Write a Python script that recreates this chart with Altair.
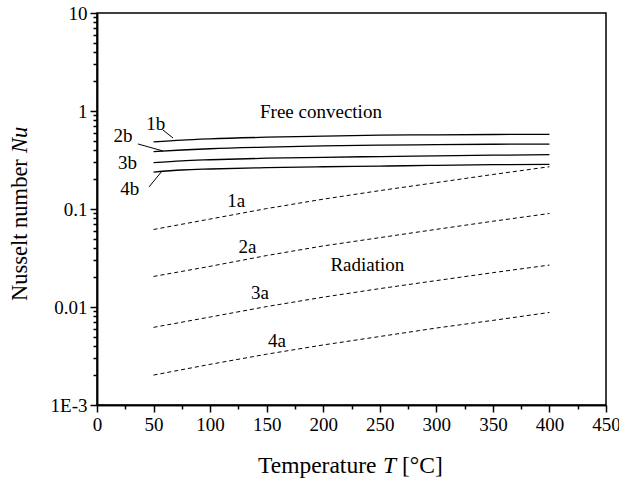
import altair as alt
import pandas as pd

FONT = "Liberation Serif"

# Free convection curves (solid)
T_fc = [50, 75, 100, 150, 200, 250, 300, 350, 400]
nu_1b = [0.483, 0.505, 0.52, 0.54, 0.555, 0.567, 0.572, 0.576, 0.578]
nu_2b = [0.385, 0.40, 0.412, 0.428, 0.44, 0.448, 0.454, 0.458, 0.46]
nu_3b = [0.297, 0.31, 0.318, 0.33, 0.337, 0.343, 0.349, 0.354, 0.358]
nu_4b = [0.238, 0.25, 0.256, 0.264, 0.27, 0.274, 0.279, 0.283, 0.286]

# Radiation curves (dashed)
T_rad = [50, 100, 150, 200, 250, 300, 350, 400]
nu_1a = [0.0618, 0.079, 0.101, 0.126, 0.154, 0.186, 0.225, 0.270]
nu_2a = [0.0205, 0.026, 0.0335, 0.042, 0.051, 0.062, 0.075, 0.090]
nu_3a = [0.0062, 0.0079, 0.0101, 0.0126, 0.0154, 0.0186, 0.0224, 0.0268]
nu_4a = [0.00202, 0.0026, 0.0033, 0.0041, 0.0050, 0.0061, 0.0073, 0.0088]

# Curve labels
lab_text = ["1b", "2b", "3b", "4b", "1a", "2a", "3a", "4a", "Free convection", "Radiation"]
lab_T = [52, 23, 27, 29, 123, 133, 144, 159, 198, 239]
lab_nu = [0.74, 0.556, 0.294, 0.16, 0.121, 0.041, 0.0139, 0.00453, 0.97, 0.0268]

# Leader lines
lead_T1 = [58.3, 36.2, 46.0]
lead_nu1 = [0.64, 0.461, 0.168]
lead_T2 = [67.2, 58.3, 57.5]
lead_nu2 = [0.53, 0.391, 0.244]

x_major = list(range(0, 451, 50))
x_minor = list(range(25, 451, 50))
y_major = [0.001, 0.01, 0.1, 1, 10]
y_minor = []
for d in [0.001, 0.01, 0.1, 1]:
    for k in range(2, 10):
        y_minor.append(round(d * k, 6))

fc_rows = []
for name, vals in [("1b", nu_1b), ("2b", nu_2b), ("3b", nu_3b), ("4b", nu_4b)]:
    for t, v in zip(T_fc, vals):
        fc_rows.append({"series": name, "T": t, "Nu": v})
fc = pd.DataFrame(fc_rows)

rad_rows = []
for name, vals in [("1a", nu_1a), ("2a", nu_2a), ("3a", nu_3a), ("4a", nu_4a)]:
    for t, v in zip(T_rad, vals):
        rad_rows.append({"series": name, "T": t, "Nu": v})
rad = pd.DataFrame(rad_rows)

labels = pd.DataFrame({"text": lab_text, "T": lab_T, "Nu": lab_nu})
leaders = pd.DataFrame({"T1": lead_T1, "Nu1": lead_nu1, "T2": lead_T2, "Nu2": lead_nu2})

x_scale = alt.Scale(domain=[0, 450], nice=False, zero=False)
y_scale = alt.Scale(type="log", domain=[0.001, 10], nice=False)

TC = "black"

x_axis_major = alt.Axis(values=x_major, tickSize=7, tickWidth=1.5, tickColor=TC,
                        domainColor="black", domainWidth=1.5, labelFont=FONT,
                        labelFontSize=19, labelColor="black", labelPadding=3,
                        grid=False, title=None, labelFlush=False)
y_axis_major = alt.Axis(values=y_major, tickSize=7, tickWidth=1.5, tickColor=TC,
                        domainColor="black", domainWidth=1.5, labelFont=FONT,
                        labelFontSize=19, labelColor="black", labelPadding=3,
                        grid=False, title=None, labelFlush=False,
                        labelExpr="datum.value == 0.001 ? '1E-3' : format(datum.value, '')")
x_axis_minor = alt.Axis(values=x_minor, tickSize=4, tickWidth=1.5, tickColor=TC,
                        domainColor="black", domainWidth=1.5, labels=False,
                        grid=False, title=None, orient="bottom")
y_axis_minor = alt.Axis(values=y_minor, tickSize=4, tickWidth=1.5, tickColor=TC,
                        domainColor="black", domainWidth=1.5, labels=False,
                        grid=False, title=None, orient="left")

fc_lines = alt.Chart(fc).mark_line(color="black", strokeWidth=1.3, interpolate="monotone").encode(
    x=alt.X("T:Q", scale=x_scale, axis=x_axis_major),
    y=alt.Y("Nu:Q", scale=y_scale, axis=y_axis_major),
    detail="series:N"
)
rad_lines = alt.Chart(rad).mark_line(color="black", strokeWidth=1, strokeDash=[4, 3]).encode(
    x=alt.X("T:Q", scale=x_scale, axis=x_axis_minor),
    y=alt.Y("Nu:Q", scale=y_scale, axis=y_axis_minor),
    detail="series:N"
)
lead = alt.Chart(leaders).mark_rule(color="black", strokeWidth=1).encode(
    x=alt.X("T1:Q", scale=x_scale, axis=None), y=alt.Y("Nu1:Q", scale=y_scale, axis=None),
    x2="T2:Q", y2="Nu2:Q"
)
texts = alt.Chart(labels).mark_text(font=FONT, fontSize=19, color="black").encode(
    x=alt.X("T:Q", scale=x_scale, axis=None), y=alt.Y("Nu:Q", scale=y_scale, axis=None),
    text="text:N"
)

one = pd.DataFrame({"a": [0]})


def piece(txt, x, y, size, style="normal", angle=0, baseline="alphabetic"):
    kw = dict(font=FONT, fontSize=size, color="black", align="left", baseline=baseline,
              fontStyle=style)
    if angle:
        kw["angle"] = angle
    return alt.Chart(one).mark_text(**kw).encode(
        x=alt.value(x), y=alt.value(y), text=alt.value(txt))


xtitle_n = piece("Temperature", 161, 460, 23.5)
xtitle_t = piece("T", 286, 460, 23.5, style="italic")
xtitle_u = piece("[°C]", 305, 460, 23.5)
ytitle_n = piece("Nusselt number", -77, 288, 22.5, angle=270, baseline="middle")
ytitle_i = piece("Nu", -77, 140, 22.5, style="italic", angle=270, baseline="middle")

chart = alt.layer(
    fc_lines, rad_lines, lead, texts, xtitle_n, xtitle_t, xtitle_u, ytitle_n, ytitle_i
).resolve_axis(x="independent", y="independent").properties(
    width=509, height=392,
    autosize=alt.AutoSizeParams(type="none"),
    padding={"left": 97, "top": 13, "right": 13, "bottom": 78},
).configure_view(stroke="black", strokeWidth=1.5)

chart.save("out.html", embed_options={"renderer": "svg", "actions": False})
